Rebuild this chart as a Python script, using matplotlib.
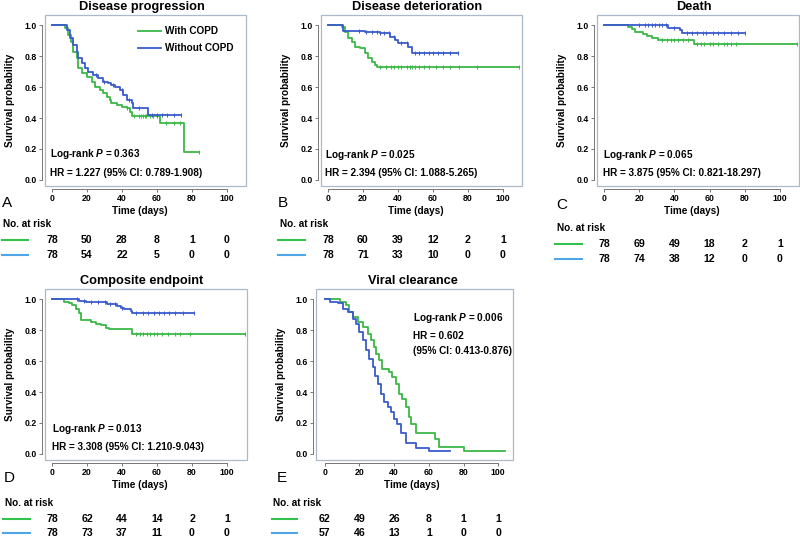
import matplotlib
matplotlib.use('Agg')
import matplotlib.pyplot as plt
from matplotlib.patches import Rectangle
from matplotlib.lines import Line2D
from matplotlib.transforms import blended_transform_factory

plt.rcParams['font.family'] = ['Liberation Sans', 'DejaVu Sans']
plt.rcParams['font.weight'] = 'bold'
plt.rcParams['mathtext.fontset'] = 'custom'
plt.rcParams['mathtext.it'] = 'Liberation Sans:italic:bold'
plt.rcParams['mathtext.rm'] = 'Liberation Sans:bold'

GREEN = '#3cb846'
BLUE = '#3a5bcc'
GREEN_T = '#33c24d'
BLUE_T = '#4ea6e6'
FRAME = '#a9b9c9'
AXC = '#777777'

risk_times = [0, 20, 40, 60, 80, 100]

# ---- A: disease progression
A_with_t = [7.4, 9.3, 10.9, 12.2, 14.1, 15, 17, 19.8, 22.7, 24.6, 27.4, 29.3, 31.2, 33.1, 34, 37, 39.8, 42.7, 44.6, 45.9, 61.7, 75.6]
A_with_s = [0.979, 0.935, 0.892, 0.828, 0.785, 0.72, 0.688, 0.667, 0.634, 0.602, 0.58, 0.559, 0.538, 0.516, 0.495, 0.484, 0.473, 0.462, 0.44, 0.413, 0.366, 0.183]
A_with_end = 84
A_with_cens = [43, 47, 50, 51, 52, 53, 54, 56, 58, 60, 65, 70, 73, 84]
A_wo_t = [8.4, 10.3, 12.2, 14.1, 15, 17, 18.9, 20.8, 23.6, 26.5, 29.3, 32.2, 34, 36, 38.9, 40.8, 42.7, 45.5, 46.5, 55]
A_wo_s = [0.968, 0.914, 0.871, 0.828, 0.785, 0.753, 0.72, 0.699, 0.677, 0.656, 0.634, 0.624, 0.613, 0.602, 0.58, 0.548, 0.516, 0.495, 0.462, 0.419]
A_wo_end = 74
A_wo_cens = [25, 30, 35, 40, 44, 50, 57, 60, 63, 66, 70, 74]
A_risk_with = [78, 50, 28, 8, 1, 0]
A_risk_wo = [78, 54, 22, 5, 0, 0]

# ---- B: disease deterioration
B_with_t = [7.8, 9.7, 11.6, 13.5, 15.4, 18.3, 21.1, 23, 25, 26.9, 28.2]
B_with_s = [0.985, 0.957, 0.914, 0.892, 0.86, 0.85, 0.817, 0.785, 0.763, 0.742, 0.727]
B_with_end = 109
B_with_cens = [30, 33, 36, 38, 40, 42, 45, 47, 48, 50, 52, 55, 58, 62, 66, 70, 75, 85, 109]
B_wo_t = [8.8, 21, 29.7, 35.4, 38.3, 40.2, 45.9, 47.8]
B_wo_s = [0.963, 0.953, 0.946, 0.925, 0.903, 0.886, 0.86, 0.817]
B_wo_end = 74.5
B_wo_cens = [18, 22, 25, 28, 30, 32, 35, 38, 42, 45, 50, 52, 55, 58, 60, 63, 66, 70, 74.5]
B_risk_with = [78, 60, 39, 12, 2, 1]
B_risk_wo = [78, 71, 33, 10, 0, 0]

# ---- C: death
C_with_t = [13.8, 15.7, 17.6, 22.3, 24.2, 27.1, 30.9, 51]
C_with_s = [0.989, 0.974, 0.957, 0.94, 0.931, 0.914, 0.903, 0.875]
C_with_end = 109.5
C_with_cens = [33, 36, 38, 40, 42, 45, 48, 53, 55, 57, 60, 62, 65, 68, 70, 72, 75, 109.5]
C_wo_t = [36.6, 43.2, 44.1]
C_wo_s = [0.983, 0.968, 0.95]
C_wo_end = 80
C_wo_cens = [20, 23, 25, 27, 29, 31, 33, 35, 40, 47, 50, 53, 56, 58, 62, 65, 68, 72, 76, 80]
C_risk_with = [78, 69, 49, 18, 2, 1]
C_risk_wo = [78, 74, 38, 12, 0, 0]

# ---- D: composite endpoint
D_with_t = [6.9, 9.7, 11.6, 13.5, 15.4, 16.4, 22, 25, 27.8, 30.7, 32.6, 45.9]
D_with_s = [0.982, 0.972, 0.961, 0.939, 0.913, 0.868, 0.853, 0.842, 0.831, 0.816, 0.805, 0.777]
D_with_end = 110
D_with_cens = [48, 50, 52, 54, 56, 58, 60, 63, 66, 70, 73, 79, 110]
D_wo_t = [15.4, 19.2, 31.6, 37.3, 39.2, 41.1, 45, 45.9]
D_wo_s = [0.989, 0.978, 0.965, 0.957, 0.944, 0.933, 0.924, 0.907]
D_wo_end = 81
D_wo_cens = [14, 18, 22, 26, 30, 33, 36, 40, 48, 52, 55, 58, 61, 64, 67, 70, 75, 81]
D_risk_with = [78, 62, 44, 14, 2, 1]
D_risk_wo = [78, 73, 37, 11, 0, 0]

# ---- E: viral clearance
E_with_t = [8.6, 12.4, 14.3, 16.2, 19, 21.9, 24.8, 26.7, 28.6, 29.5, 31.4, 33.3, 37.1, 39, 40.9, 42.8, 44.8, 46.7, 48.6, 49.5, 52.4, 63.8, 65.7, 80.4]
E_with_s = [0.982, 0.961, 0.917, 0.885, 0.853, 0.82, 0.777, 0.734, 0.69, 0.647, 0.604, 0.55, 0.528, 0.495, 0.453, 0.388, 0.355, 0.301, 0.236, 0.193, 0.134, 0.095, 0.048, 0.016]
E_with_end = 103.8
E_wo_t = [2.9, 7.6, 10.5, 13.3, 16.2, 18.1, 20, 21.9, 23.8, 25.7, 27.6, 29, 30.5, 32.4, 34.3, 36.2, 38.1, 40, 41.9, 43.8, 46.7, 52.4, 60]
E_wo_s = [0.982, 0.972, 0.939, 0.917, 0.874, 0.842, 0.788, 0.734, 0.669, 0.615, 0.56, 0.506, 0.453, 0.388, 0.333, 0.301, 0.268, 0.225, 0.193, 0.134, 0.069, 0.037, 0.018]
E_wo_end = 72
E_risk_with = [62, 49, 26, 8, 1, 1]
E_risk_wo = [57, 46, 13, 1, 0, 0]

W, H = 800, 539
fig = plt.figure(figsize=(8, 5.39), dpi=100)


def px_axes(l, t, r, b):
    return fig.add_axes([l / W, 1 - b / H, (r - l) / W, (b - t) / H])


def surv_at(t, times, surv):
    s = 1.0
    for ti, si in zip(times, surv):
        if ti <= t:
            s = si
    return s


def draw_curve(ax, times, surv, end, cens, color):
    x = [0] + list(times) + [end]
    y = [1.0] + list(surv) + [surv[-1]]
    line, = ax.plot(x, y, drawstyle='steps-post', color=color, lw=1.3)
    if cens:
        ax.plot(cens, [surv_at(c, times, surv) for c in cens], ls='none',
                marker='|', ms=3, mew=0.7, color=color)
    return line


panels = [
    dict(title='Disease progression', box=(45, 15, 246, 186), xlim=(-4, 111),
         green=(A_with_t, A_with_s, A_with_end, A_with_cens),
         blue=(A_wo_t, A_wo_s, A_wo_end, A_wo_cens),
         risk=(A_risk_with, A_risk_wo), rows=(224, 240, 255), rlx=3, linex=(2, 28),
         letter=('A', 2, 203),
         notes=[(-1, 0.168, 'Log-rank $P$ = 0.363'), (-1, 0.045, 'HR = 1.227 (95% CI: 0.789-1.908)')],
         legend=True),
    dict(title='Disease deterioration', box=(321, 15, 522, 186), xlim=(-4, 111),
         green=(B_with_t, B_with_s, B_with_end, B_with_cens),
         blue=(B_wo_t, B_wo_s, B_wo_end, B_wo_cens),
         risk=(B_risk_with, B_risk_wo), rows=(224, 240, 255), rlx=280, linex=(278, 305),
         letter=('B', 278, 203),
         notes=[(-1.5, 0.16, 'Log-rank $P$ = 0.025'), (-1.5, 0.045, 'HR = 2.394 (95% CI: 1.088-5.265)')],
         legend=False),
    dict(title='Death', box=(597, 15, 799, 186), xlim=(-4, 110.8),
         green=(C_with_t, C_with_s, C_with_end, C_with_cens),
         blue=(C_wo_t, C_wo_s, C_wo_end, C_wo_cens),
         risk=(C_risk_with, C_risk_wo), rows=(228, 244, 259), rlx=557, linex=(555, 582),
         letter=('C', 556, 205),
         notes=[(-0.7, 0.16, 'Log-rank $P$ = 0.065'), (-0.7, 0.045, 'HR = 3.875 (95% CI: 0.821-18.297)')],
         legend=False),
    dict(title='Composite endpoint', box=(45, 289, 247, 460), xlim=(-4, 111.4),
         green=(D_with_t, D_with_s, D_with_end, D_with_cens),
         blue=(D_wo_t, D_wo_s, D_wo_end, D_wo_cens),
         risk=(D_risk_with, D_risk_wo), rows=(503, 519, 533), rlx=5, linex=(3, 30),
         letter=('D', 4, 478),
         notes=[(0, 0.16, 'Log-rank $P$ = 0.013'), (0, 0.045, 'HR = 3.308 (95% CI: 1.210-9.043)')],
         legend=False),
    dict(title='Viral clearance', box=(316, 289, 513, 460), xlim=(-5, 108.5),
         green=(E_with_t, E_with_s, E_with_end, []),
         blue=(E_wo_t, E_wo_s, E_wo_end, []),
         risk=(E_risk_with, E_risk_wo), rows=(503, 519, 533), rlx=273, linex=(272, 297),
         letter=('E', 277, 478),
         notes=[(51, 0.876, 'Log-rank $P$ = 0.006'), (51, 0.76, 'HR = 0.602'),
                (51, 0.665, '(95% CI: 0.413-0.876)')],
         legend=False),
]

ylim = (-0.039, 1.065)

for p in panels:
    ax = px_axes(*p['box'])
    ax.set_xlim(*p['xlim'])
    ax.set_ylim(*ylim)

    lg = draw_curve(ax, *p['green'], GREEN)
    lb = draw_curve(ax, *p['blue'], BLUE)

    ax.add_patch(Rectangle((0, 0), 1, 1, transform=ax.transAxes, fill=False,
                           ec=FRAME, lw=0.9, clip_on=False))
    for s in ['top', 'right']:
        ax.spines[s].set_visible(False)
    for s in ['left', 'bottom']:
        ax.spines[s].set_position(('outward', 2.2))
        ax.spines[s].set_color(AXC)
        ax.spines[s].set_linewidth(0.7)
    ax.spines['left'].set_bounds(0, 1)
    ax.spines['bottom'].set_bounds(0, 100)
    ax.set_xticks(risk_times)
    ax.set_yticks([0, 0.2, 0.4, 0.6, 0.8, 1.0])
    ax.set_yticklabels(['%.1f' % v for v in [0, 0.2, 0.4, 0.6, 0.8, 1.0]])
    ax.tick_params(direction='out', length=2.2, width=0.7, color=AXC,
                   labelsize=6.3, pad=1.2)

    xr = p['xlim'][1] - p['xlim'][0]
    xc = (50 - p['xlim'][0]) / xr
    ax.text(xc + 0.01, 1 + 8 / 171, p['title'], transform=ax.transAxes,
            ha='center', va='center', fontsize=9.2, fontweight='bold')
    ax.set_xlabel('Time (days)', fontsize=7.2, fontweight='bold', va='center')
    ax.xaxis.set_label_coords(xc, -25 / 171)
    ax.set_ylabel('Survival probability', fontsize=7.2, fontweight='bold', va='center')
    ax.yaxis.set_label_coords(-35 / (p['box'][2] - p['box'][0]), 0.5)

    for x, y, txt in p['notes']:
        ax.text(x, y, txt, ha='left', va='center', fontsize=7.2, fontweight='bold')

    if p['legend']:
        ax.legend([lg, lb], ['With COPD', 'Without COPD'], loc='upper left',
                  bbox_to_anchor=(0.463, 0.935), frameon=False, fontsize=7.2,
                  handlelength=2.3, handletextpad=0.35, labelspacing=0.7,
                  borderpad=0, borderaxespad=0)

    # risk table
    ytitle, yg, yb = p['rows']
    fig.text(p['rlx'] / W, 1 - ytitle / H, 'No. at risk', ha='left', va='center',
             fontsize=7.2, fontweight='bold')
    x0, x1 = p['linex']
    fig.add_artist(Line2D([x0 / W, x1 / W], [1 - yg / H] * 2, color=GREEN_T, lw=1.5))
    fig.add_artist(Line2D([x0 / W, x1 / W], [1 - yb / H] * 2, color=BLUE_T, lw=1.5))
    trans = blended_transform_factory(ax.transData, fig.transFigure)
    rw, rb = p['risk']
    for t, vg, vb in zip(risk_times, rw, rb):
        ax.text(t, 1 - yg / H, str(vg), transform=trans, ha='center', va='center',
                fontsize=7.6, fontweight='bold', clip_on=False)
        ax.text(t, 1 - yb / H, str(vb), transform=trans, ha='center', va='center',
                fontsize=7.6, fontweight='bold', clip_on=False)

    letter, lx, ly = p['letter']
    fig.text(lx / W, 1 - ly / H, letter, ha='left', va='center', fontsize=11,
             fontweight='normal')

fig.savefig('out.png', dpi=100)
